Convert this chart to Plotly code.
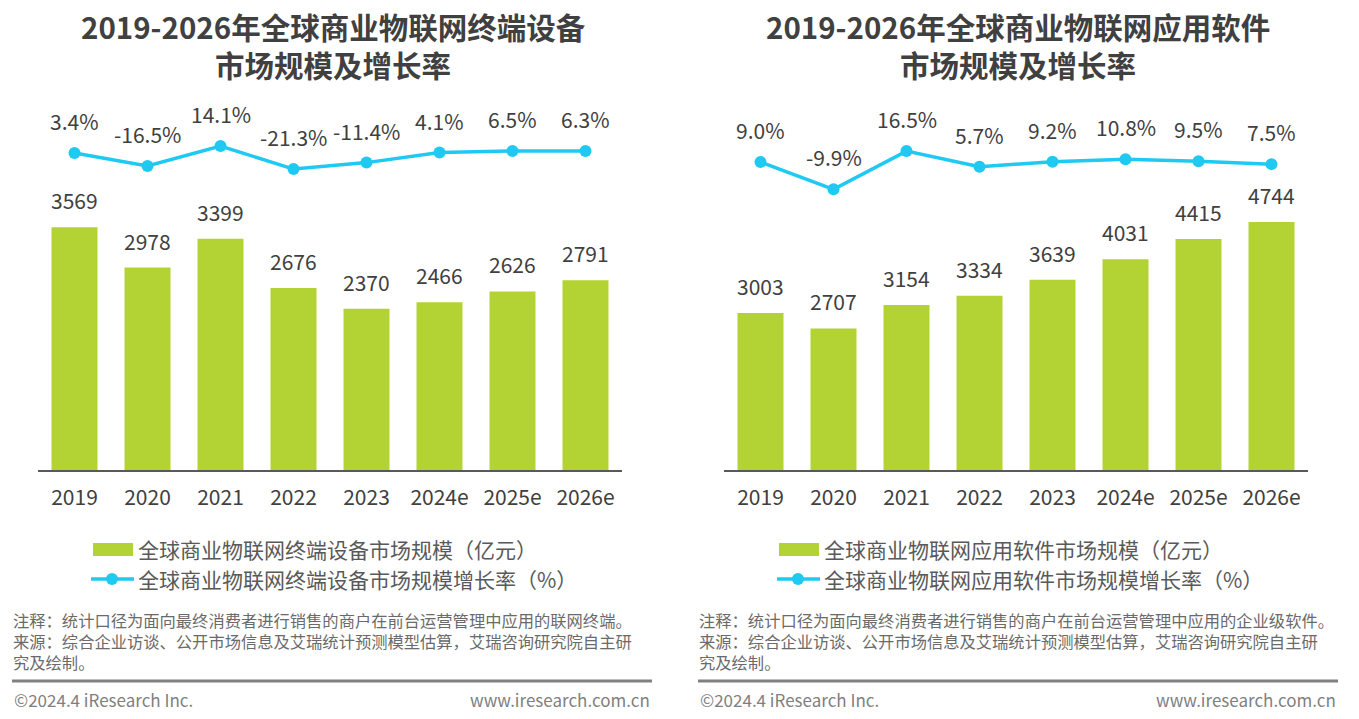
import plotly.graph_objects as go

# ---------------- data ----------------
categories = ["2019", "2020", "2021", "2022", "2023", "2024e", "2025e", "2026e"]
device_size = [3569, 2978, 3399, 2676, 2370, 2466, 2626, 2791]
device_growth = [3.4, -16.5, 14.1, -21.3, -11.4, 4.1, 6.5, 6.3]
software_size = [3003, 2707, 3154, 3334, 3639, 4031, 4415, 4744]
software_growth = [9.0, -9.9, 16.5, 5.7, 9.2, 10.8, 9.5, 7.5]

title_left = ["2019-2026年全球商业物联网终端设备", "市场规模及增长率"]
title_right = ["2019-2026年全球商业物联网应用软件", "市场规模及增长率"]
legend_left = ["全球商业物联网终端设备市场规模（亿元）", "全球商业物联网终端设备市场规模增长率（%）"]
legend_right = ["全球商业物联网应用软件市场规模（亿元）", "全球商业物联网应用软件市场规模增长率（%）"]
notes_left = [
    "注释：统计口径为面向最终消费者进行销售的商户在前台运营管理中应用的联网终端。",
    "来源：综合企业访谈、公开市场信息及艾瑞统计预测模型估算，艾瑞咨询研究院自主研",
    "究及绘制。",
]
notes_right = [
    "注释：统计口径为面向最终消费者进行销售的商户在前台运营管理中应用的企业级软件。",
    "来源：综合企业访谈、公开市场信息及艾瑞统计预测模型估算，艾瑞咨询研究院自主研",
    "究及绘制。",
]
footer_left = "©2024.4 iResearch Inc."
footer_right = "www.iresearch.com.cn"

# ---------------- style ----------------
W, H = 1359, 719
GREEN = "#B3D334"
CYAN = "#1FC9F1"
FONT = "Noto Sans CJK SC"
DARK = "#404040"

positions = list(range(len(categories)))


def px(x):
    return x / W


def py(y):
    return 1 - y / H


fig = go.Figure()

panels = [
    dict(xa="x", ya_bar="y", ya_line="y2", size=device_size, growth=device_growth),
    dict(xa="x2", ya_bar="y3", ya_line="y4", size=software_size, growth=software_growth),
]

for p in panels:
    fig.add_trace(go.Bar(
        x=positions, y=p["size"], xaxis=p["xa"], yaxis=p["ya_bar"],
        marker=dict(color=GREEN, line=dict(width=0)), width=0.63,
        showlegend=False, hovertext=categories, hoverinfo="text+y",
    ))
    fig.add_trace(go.Scatter(
        x=positions, y=p["growth"], xaxis=p["xa"], yaxis=p["ya_line"],
        mode="lines+markers", line=dict(color=CYAN, width=3.5),
        marker=dict(size=12, color=CYAN), showlegend=False,
        hovertext=categories, hoverinfo="text+y",
    ))

annotations = []
for p in panels:
    for xi, v in zip(positions, p["size"]):
        annotations.append(dict(
            x=xi, y=v, xref=p["xa"], yref=p["ya_bar"], text=str(v), showarrow=False,
            xanchor="center", yanchor="middle", yshift=27,
            font=dict(family=FONT, size=21, color=DARK),
        ))
    for xi, v in zip(positions, p["growth"]):
        annotations.append(dict(
            x=xi, y=v, xref=p["xa"], yref=p["ya_line"], text=f"{v:.1f}%", showarrow=False,
            xanchor="center", yanchor="middle", yshift=32,
            font=dict(family=FONT, size=21, color=DARK),
        ))

# titles
for cx, lines in [(333, title_left), (1018, title_right)]:
    annotations.append(dict(
        x=px(cx), y=py(45), xref="paper", yref="paper",
        text="<br>".join(f"<b>{t}</b>" for t in lines),
        showarrow=False, xanchor="center", yanchor="middle", align="center",
        font=dict(family=FONT, size=29.5, color=DARK),
    ))

shapes = []
# custom legends
for sx, lines in [(93, legend_left), (779, legend_right)]:
    shapes.append(dict(type="rect", xref="paper", yref="paper",
                       x0=px(sx), x1=px(sx + 40), y0=py(556), y1=py(543),
                       fillcolor=GREEN, line=dict(width=0)))
    shapes.append(dict(type="line", xref="paper", yref="paper",
                       x0=px(sx - 2), x1=px(sx + 41), y0=py(579), y1=py(579),
                       line=dict(color=CYAN, width=3.5)))
    shapes.append(dict(type="circle", xref="paper", yref="paper",
                       x0=px(sx + 13), x1=px(sx + 25), y0=py(585), y1=py(573),
                       fillcolor=CYAN, line=dict(width=0)))
    for yy, t in zip([549, 579], lines):
        annotations.append(dict(
            x=px(sx + 43), y=py(yy), xref="paper", yref="paper", text=t,
            showarrow=False, xanchor="left", yanchor="middle",
            font=dict(family=FONT, size=21, color="#595959"),
        ))

# notes, separators, footers
for lx, rx, notes in [(12, 652, notes_left), (698, 1338, notes_right)]:
    annotations.append(dict(
        x=px(lx - 1), y=py(641), xref="paper", yref="paper", text="<br>".join(notes),
        showarrow=False, xanchor="left", yanchor="middle", align="left",
        font=dict(family=FONT, size=16.3, color="#6a6a6a"),
    ))
    shapes.append(dict(type="line", xref="paper", yref="paper",
                       x0=px(lx), x1=px(rx), y0=py(681), y1=py(681),
                       line=dict(color="#808080", width=3)))
    annotations.append(dict(
        x=px(lx), y=py(699), xref="paper", yref="paper", text=footer_left,
        showarrow=False, xanchor="left", yanchor="middle",
        font=dict(family=FONT, size=17, color="#7f7f7f"),
    ))
    annotations.append(dict(
        x=px(rx), y=py(699), xref="paper", yref="paper", text=footer_right,
        showarrow=False, xanchor="right", yanchor="middle",
        font=dict(family=FONT, size=17, color="#7f7f7f"),
    ))

xaxis_common = dict(
    type="linear", range=[-0.5, len(categories) - 0.5],
    tickmode="array", tickvals=positions, ticktext=categories,
    showline=True, linecolor="#595959", linewidth=1.5,
    ticks="", showgrid=False, zeroline=False,
    tickfont=dict(family=FONT, size=21, color=DARK), ticklabelstandoff=8,
    fixedrange=True,
)
hidden = dict(visible=False, showgrid=False, zeroline=False, fixedrange=True)

# pixel scales
BOTTOM, TOP = 470, 100
LINE_BOTTOM = 220

fig.update_layout(
    width=W, height=H, margin=dict(l=0, r=0, t=0, b=0),
    paper_bgcolor="white", plot_bgcolor="rgba(0,0,0,0)",
    font=dict(family=FONT, color=DARK),
    showlegend=False,
    xaxis=dict(domain=[px(38), px(622)], anchor="y", **xaxis_common),
    yaxis=dict(domain=[py(BOTTOM), py(TOP)], range=[0, (BOTTOM - TOP) / 0.068], anchor="x", **hidden),
    yaxis2=dict(domain=[py(LINE_BOTTOM), py(TOP)],
                range=[-(LINE_BOTTOM - 155.2) / 0.65, (155.2 - TOP) / 0.65], anchor="x", **hidden),
    xaxis2=dict(domain=[px(724), px(1308)], anchor="y3", **xaxis_common),
    yaxis3=dict(domain=[py(BOTTOM), py(TOP)], range=[0, (BOTTOM - TOP) / 0.0523], anchor="x2", **hidden),
    yaxis4=dict(domain=[py(LINE_BOTTOM), py(TOP)],
                range=[-(LINE_BOTTOM - 175) / 1.45, (175 - TOP) / 1.45], anchor="x2", **hidden),
    annotations=annotations,
    shapes=shapes,
)

fig.write_html("out.html")
